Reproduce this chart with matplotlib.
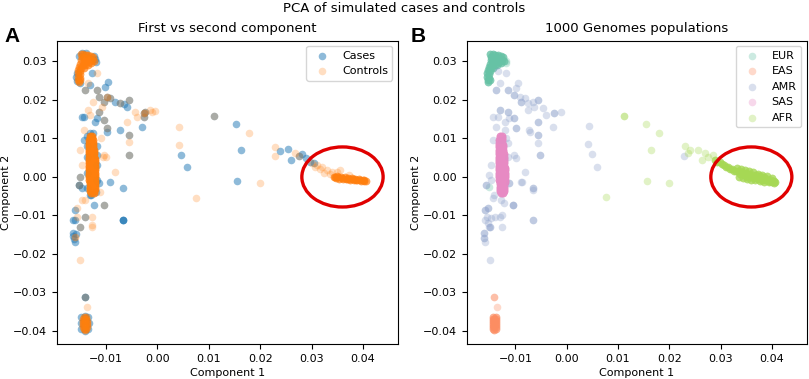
import numpy as np
import matplotlib
matplotlib.use("Agg")
import matplotlib.pyplot as plt
from matplotlib.patches import Ellipse

plt.rcParams["font.family"] = ["DejaVu Sans"]
plt.rcParams["font.size"] = 8

# ---------------- Panel B: 1000 Genomes populations ----------------
# dense clusters: positions + multiplicity (number of overlapping samples)
eur_x = [-0.0149, -0.0144, -0.0139, -0.0134, -0.0129, -0.0125,
         -0.0147, -0.0142, -0.0137, -0.0132, -0.0127, -0.0123,
         -0.0148, -0.0143, -0.0138, -0.0133, -0.0128,
         -0.0150, -0.0145, -0.0140, -0.0135,
         -0.0152, -0.0148, -0.0143,
         -0.0154, -0.0150, -0.0155, -0.0151, -0.0155, -0.0151,
         -0.0154, -0.0150, -0.0153]
eur_y = [0.0318, 0.0318, 0.0317, 0.0316, 0.0314, 0.0311,
         0.0310, 0.0309, 0.0308, 0.0306, 0.0304, 0.0301,
         0.0302, 0.0300, 0.0299, 0.0297, 0.0295,
         0.0293, 0.0291, 0.0290, 0.0289,
         0.0284, 0.0282, 0.0281,
         0.0276, 0.0274, 0.0268, 0.0266, 0.0260, 0.0257,
         0.0252, 0.0250, 0.0246]
eur_count = 4
eur_extra_x = [-0.0118, -0.0119, -0.0152]
eur_extra_y = [0.0299, 0.0295, -0.0026]

sas_x = [-0.0131, -0.0127, -0.0131, -0.0127, -0.0132, -0.0126, -0.0132, -0.0126,
         -0.0132, -0.0125, -0.0132, -0.0125, -0.0133, -0.0124, -0.0133, -0.0124,
         -0.0133, -0.0123, -0.0133, -0.0123, -0.0133, -0.0122, -0.0133, -0.0122,
         -0.0133, -0.0122, -0.0133, -0.0122, -0.0132, -0.0121, -0.0132, -0.0121,
         -0.0132, -0.0121, -0.0132, -0.0121, -0.0132, -0.0121, -0.0132, -0.0121,
         -0.0131, -0.0121, -0.0131, -0.0122, -0.0131, -0.0122, -0.0130, -0.0122,
         -0.0130, -0.0123, -0.0129, -0.0124]
sas_y = [0.0106, 0.0106, 0.0100, 0.0100, 0.0094, 0.0094, 0.0088, 0.0088,
         0.0082, 0.0082, 0.0076, 0.0076, 0.0070, 0.0070, 0.0064, 0.0064,
         0.0058, 0.0058, 0.0052, 0.0052, 0.0046, 0.0046, 0.0040, 0.0040,
         0.0034, 0.0034, 0.0028, 0.0028, 0.0022, 0.0022, 0.0016, 0.0016,
         0.0010, 0.0010, 0.0004, 0.0004, -0.0002, -0.0002, -0.0008, -0.0008,
         -0.0014, -0.0014, -0.0020, -0.0020, -0.0026, -0.0026, -0.0032, -0.0032,
         -0.0038, -0.0038, -0.0043, -0.0043]
sas_count = 6

eas_x = [-0.0143, -0.0138, -0.0144, -0.0138, -0.0144, -0.0137, -0.0144, -0.0137,
         -0.0144, -0.0137, -0.0144, -0.0137, -0.0143, -0.0138, -0.0141, -0.0141,
         -0.0141, -0.0141]
eas_y = [-0.0366, -0.0366, -0.0371, -0.0371, -0.0376, -0.0376, -0.0381, -0.0381,
         -0.0386, -0.0386, -0.0391, -0.0391, -0.0396, -0.0396, -0.0369, -0.0379,
         -0.0389, -0.0398]
eas_count = 3
eas_extra_x = [-0.0141, -0.0141, -0.0136]
eas_extra_y = [-0.0314, -0.0314, -0.0338]

afr_x = [0.0290, 0.0294, 0.0298, 0.0302, 0.0306, 0.0310, 0.0314, 0.0318, 0.0322, 0.0326, 0.0330,
         0.0335, 0.0338, 0.0342, 0.0345, 0.0349, 0.0352, 0.0356, 0.0359, 0.0363, 0.0366, 0.0370,
         0.0373, 0.0377, 0.0380, 0.0384, 0.0387, 0.0391, 0.0394, 0.0398, 0.0401, 0.0404, 0.0406,
         0.0332, 0.0336, 0.0340, 0.0344, 0.0348, 0.0352, 0.0356, 0.0360, 0.0364, 0.0368,
         0.0372, 0.0376, 0.0380, 0.0385, 0.0390, 0.0395, 0.0400, 0.0404]
afr_y = [0.0043, 0.0038, 0.0037, 0.0032, 0.0031, 0.0026, 0.0025, 0.0020, 0.0019, 0.0014, 0.0015,
         0.0015, 0.0006, 0.0012, 0.0003, 0.0009, 0.0000, 0.0007, -0.0002, 0.0005, -0.0004, 0.0003,
         -0.0006, 0.0001, -0.0008, -0.0002, -0.0010, -0.0005, -0.0012, -0.0008, -0.0014, -0.0011, -0.0014,
         0.0022, 0.0000, 0.0019, -0.0003, 0.0017, -0.0006, 0.0014, -0.0008, 0.0011, -0.0010,
         0.0008, -0.0011, 0.0004, -0.0013, 0.0001, -0.0015, -0.0004, -0.0016]
afr_count = 4
afr_extra_x = [0.0112, 0.0112, 0.0154, 0.0180, 0.0164, 0.0156, 0.0200, 0.0076,
               0.0230, 0.0240, 0.0256, 0.0269, 0.0263, 0.0276, 0.0285, 0.0237]
afr_extra_y = [0.0158, 0.0158, 0.0136, 0.0114, 0.0069, -0.0011, -0.0017, -0.0052,
               0.0080, 0.0069, 0.0069, 0.0061, 0.0043, 0.0052, 0.0056, 0.0061]

amr_x = [-0.0134, -0.0118, -0.0131, -0.0138, -0.0138, -0.0115, -0.0115, -0.0095, -0.0099,
         -0.0102, -0.0102, -0.0092, -0.0082, -0.0089, -0.0089, -0.0076, -0.0066, -0.0056,
         -0.0056, -0.0063, -0.0047, -0.0131, -0.0131, -0.0134, -0.0144, -0.0115, -0.0115,
         -0.0112, -0.0121, -0.0102, -0.0102, -0.0099, -0.0099, -0.0076, -0.0056, -0.0056,
         -0.0040, -0.0024, -0.0024, -0.0011, -0.0027, -0.0073, -0.0056, -0.0056, 0.0044,
         0.0042, 0.0049, 0.0060, -0.0065, -0.0088, -0.0053, -0.0053, -0.0071, 0.0229,
         -0.0147, -0.0151, -0.0147, -0.0157, -0.0157, -0.0141, -0.0154, -0.0154, -0.0160,
         -0.0147, -0.0131, -0.0151, -0.0115, -0.0115, -0.0099, -0.0102, -0.0056, -0.0082,
         -0.0089, -0.0066, -0.0105, -0.0128, -0.0112, -0.0112, -0.0066, -0.0066, -0.0118,
         -0.0128, -0.0159, -0.0159, -0.0156, -0.0153, -0.0149, -0.0149, -0.0162, -0.0162,
         -0.0162, -0.0162, -0.0159, -0.0149, -0.0140, -0.0126, -0.0126, -0.0123, -0.0104,
         -0.0104, -0.0143, -0.0065, -0.0137, -0.0120, -0.0143]
amr_y = [0.0273, 0.0269, 0.0243, 0.0225, 0.0225, 0.0225, 0.0225, 0.0243, 0.0230,
         0.0212, 0.0212, 0.0208, 0.0204, 0.0195, 0.0195, 0.0191, 0.0195, 0.0199,
         0.0199, 0.0182, 0.0178, 0.0173, 0.0173, 0.0156, 0.0156, 0.0169, 0.0169,
         0.0152, 0.0143, 0.0152, 0.0152, 0.0126, 0.0126, 0.0173, 0.0143, 0.0143,
         0.0160, 0.0166, 0.0166, 0.0169, 0.0130, 0.0121, 0.0108, 0.0108, 0.0132,
         0.0084, 0.0058, 0.0024, -0.0030, -0.0013, 0.0056, 0.0056, 0.0117, 0.0054,
         0.0030, 0.0004, -0.0009, -0.0022, -0.0022, -0.0048, -0.0082, -0.0082, -0.0112,
         -0.0108, -0.0104, -0.0130, 0.0087, 0.0050, 0.0048, 0.0056, 0.0087, 0.0013,
         -0.0013, -0.0030, -0.0074, -0.0061, -0.0017, -0.0017, -0.0112, -0.0112, 0.0100,
         0.0095, -0.0086, -0.0086, -0.0104, -0.0121, -0.0130, -0.0130, -0.0147, -0.0147,
         -0.0160, -0.0160, -0.0169, -0.0216, -0.0104, -0.0130, -0.0099, -0.0069, -0.0074,
         -0.0074, -0.0056, -0.0035, 0.0128, 0.0120, 0.0095]

# ---------------- Panel A: simulated cases and controls ----------------
case_x = [-0.0127, -0.0140, -0.0095, -0.0101, -0.0117, -0.0114, -0.0098, -0.0092, -0.0104,
          -0.0082, -0.0072, -0.0056, -0.0059, -0.0064, -0.0025, -0.0143, -0.0114, -0.0117,
          -0.0121, -0.0104, -0.0098, -0.0072, -0.0056, -0.0030, -0.0131, -0.0147, -0.0026,
          -0.0023,
          -0.0143, -0.0117, -0.0114, -0.0131, -0.0098, -0.0056, 0.0047, 0.0058, -0.0092,
          -0.0066, -0.0150, -0.0153, -0.0153, -0.0147, -0.0124, -0.0104, -0.0160, -0.0163,
          -0.0140, -0.0150, -0.0066, -0.0066, -0.0066, -0.0160, -0.0163, -0.0164, -0.0162,
          -0.0160, -0.0158, -0.0141, -0.0141,
          0.0110, 0.0153, 0.0163, 0.0155, 0.0238, 0.0254, 0.0260, 0.0276, 0.0281, 0.0297,
          0.0290, 0.0305,
          -0.0121, -0.0120, -0.0124, -0.0146, -0.0138, -0.0153, -0.0157, -0.0158, -0.0156,
          -0.0150,
          -0.0136, -0.0136, -0.0137, -0.0137, -0.0136, -0.0118, -0.0117, -0.0117, -0.0119,
          -0.0128, -0.0130, -0.0125,
          -0.0148, -0.0149, -0.0148, -0.0141, -0.0134, -0.0133, -0.0134, -0.0141]
case_y = [0.0269, 0.0225, 0.0247, 0.0234, 0.0225, 0.0208, 0.0208, 0.0204, 0.0195,
          0.0195, 0.0191, 0.0199, 0.0182, 0.0188, 0.0166, 0.0156, 0.0169, 0.0152,
          0.0143, 0.0147, 0.0126, 0.0121, 0.0108, 0.0130, 0.0238, 0.0156, 0.0156,
          0.0169,
          0.0095, 0.0056, -0.0017, -0.0048, 0.0117, 0.0056, 0.0056, 0.0026, -0.0013,
          -0.0030, 0.0000, -0.0022, -0.0022, -0.0030, -0.0074, -0.0074, -0.0086, -0.0112,
          -0.0104, -0.0130, -0.0112, -0.0112, -0.0112, -0.0112, -0.0147, -0.0155, -0.0163,
          -0.0170, -0.0150, -0.0314, -0.0314,
          0.0158, 0.0136, 0.0069, -0.0011, 0.0066, 0.0071, 0.0043, 0.0054, 0.0059, 0.0039,
          0.0047, 0.0035,
          0.0305, 0.0297, 0.0313, 0.0320, 0.0320, 0.0312, 0.0270, 0.0258, 0.0248,
          0.0244,
          0.0105, 0.0080, 0.0050, 0.0010, -0.0030, 0.0080, 0.0030, -0.0010, -0.0040,
          -0.0047, 0.0112, 0.0112,
          -0.0365, -0.0380, -0.0395, -0.0401, -0.0395, -0.0380, -0.0366, -0.0361]

ctrl_x = [-0.0117, -0.0134, -0.0117, -0.0114, -0.0098, -0.0098, -0.0092, -0.0104, -0.0072,
          -0.0056, -0.0043, -0.0040, -0.0025, -0.0025, -0.0010, -0.0059, 0.0042, -0.0134,
          -0.0131, -0.0114, -0.0104, -0.0098, -0.0056, -0.0140, -0.0026, -0.0023, -0.0015,
          -0.0005, -0.0125, -0.0108,
          -0.0056, 0.0042, -0.0104, -0.0100, -0.0082, -0.0147, -0.0150, -0.0153, -0.0147,
          -0.0156, -0.0156, -0.0140, -0.0127, -0.0150, -0.0127, -0.0127, -0.0161, -0.0161,
          -0.0150, -0.0141, -0.0137, -0.0104, -0.0056, -0.0142, -0.0110, -0.0150, -0.0112,
          -0.0140, -0.0105,
          0.0110, 0.0179, 0.0199, 0.0075, 0.0229, 0.0229, 0.0268, 0.0276,
          0.0301, 0.0311, 0.0320, 0.0330, 0.0325, 0.0335, 0.0349, 0.0356, 0.0372, 0.0340,
          0.0306, 0.0316]
ctrl_y = [0.0269, 0.0243, 0.0225, 0.0208, 0.0208, 0.0208, 0.0204, 0.0195, 0.0191,
          0.0199, 0.0169, 0.0156, 0.0166, 0.0166, 0.0169, 0.0143, 0.0130, 0.0173,
          0.0160, 0.0169, 0.0147, 0.0126, 0.0108, 0.0225, 0.0156, 0.0169, 0.0173,
          0.0170, 0.0195, 0.0180,
          0.0091, 0.0082, 0.0056, 0.0050, 0.0013, 0.0030, 0.0000, -0.0022, -0.0061,
          -0.0082, -0.0104, -0.0104, -0.0104, -0.0130, -0.0125, -0.0132, -0.0157, -0.0157,
          -0.0216, -0.0314, -0.0338, -0.0074, 0.0056, 0.0120, 0.0100, 0.0070, -0.0040,
          -0.0060, 0.0052,
          0.0158, 0.0114, -0.0017, -0.0055, 0.0078, 0.0054, 0.0061, 0.0054,
          0.0035, 0.0030, 0.0026, 0.0017, 0.0010, 0.0008, 0.0013, 0.0017, 0.0004, 0.0012,
          0.0025, 0.0020]

ctrl_afr_x = [0.0343, 0.0345, 0.0347, 0.0350, 0.0352, 0.0354, 0.0357, 0.0359, 0.0361, 0.0364,
              0.0366, 0.0368, 0.0371, 0.0373, 0.0375, 0.0378, 0.0380, 0.0382, 0.0385, 0.0387,
              0.0389, 0.0392, 0.0394, 0.0396, 0.0399, 0.0401, 0.0402, 0.0405]
ctrl_afr_y = [0.0000, -0.0002, -0.0004, 0.0001, -0.0002, -0.0005, -0.0001, -0.0003, -0.0006, -0.0002,
              -0.0005, -0.0007, -0.0003, -0.0006, -0.0008, -0.0004, -0.0007, -0.0009, -0.0005, -0.0008,
              -0.0010, -0.0007, -0.0009, -0.0011, -0.0008, -0.0010, -0.0012, -0.0011]
ctrl_afr_count = 4

pop_names = ["EUR", "EAS", "AMR", "SAS", "AFR"]
pop_colors = ["#66c2a5", "#fc8d62", "#8da0cb", "#e78ac3", "#a6d854"]


def rep(x, y, n):
    return np.repeat(np.asarray(x), n), np.repeat(np.asarray(y), n)


fig = plt.figure(figsize=(8.09, 3.79), dpi=100)
axA = fig.add_axes([0.0705, 0.0923, 0.4215, 0.8003])
axB = fig.add_axes([0.5769, 0.0923, 0.4203, 0.8003])

S = 30
# ----- Panel A -----
ex, ey = rep(eur_x, eur_y, eur_count)
sx, sy = rep(sas_x, sas_y, sas_count)
asx, asy = rep(eas_x, eas_y, eas_count)
fx, fy = rep(ctrl_afr_x, ctrl_afr_y, ctrl_afr_count)
kx_all = np.concatenate([ctrl_x, ex, sx, asx, fx])
ky_all = np.concatenate([ctrl_y, ey, sy, asy, fy])
axA.scatter(case_x, case_y, s=S, color="#1f77b4", alpha=0.5, linewidths=0, label="Cases")
axA.scatter(kx_all, ky_all, s=S, color="#ff7f0e", alpha=0.25, linewidths=0, label="Controls")

# ----- Panel B -----
afx, afy = rep(afr_x, afr_y, afr_count)
bx = {
    "EUR": np.concatenate([ex, eur_extra_x]),
    "EAS": np.concatenate([asx, eas_extra_x]),
    "AMR": np.asarray(amr_x),
    "SAS": sx,
    "AFR": np.concatenate([afx, afr_extra_x]),
}
by = {
    "EUR": np.concatenate([ey, eur_extra_y]),
    "EAS": np.concatenate([asy, eas_extra_y]),
    "AMR": np.asarray(amr_y),
    "SAS": sy,
    "AFR": np.concatenate([afy, afr_extra_y]),
}
for name, col in zip(pop_names, pop_colors):
    axB.scatter(bx[name], by[name], s=S, color=col, alpha=0.33, linewidths=0, label=name)

for ax in (axA, axB):
    ax.set_xlim(-0.0195, 0.0468)
    ax.set_ylim(-0.0435, 0.0353)
    ax.set_xticks([-0.01, 0.0, 0.01, 0.02, 0.03, 0.04])
    ax.set_yticks([-0.04, -0.03, -0.02, -0.01, 0.0, 0.01, 0.02, 0.03])
    ax.set_xlabel("Component 1", fontsize=8, labelpad=3)
    ax.set_ylabel("Component 2", fontsize=8, labelpad=1.5)
    ax.tick_params(labelsize=8)
    ax.add_patch(Ellipse((0.0360, -0.0001), width=0.0158, height=0.0156,
                         fill=False, edgecolor="#e00000", linewidth=2.4, zorder=5))

axA.set_title("First vs second component", fontsize=9.5)
axB.set_title("1000 Genomes populations", fontsize=9.5)
axA.legend(loc="upper right", fontsize=8)
axB.legend(loc="upper right", fontsize=8)

fig.suptitle("PCA of simulated cases and controls", fontsize=9.5, y=0.995)
fig.text(0.005, 0.889, "A", fontsize=15, fontweight="bold", family="Liberation Sans")
fig.text(0.507, 0.889, "B", fontsize=15, fontweight="bold", family="Liberation Sans")

fig.savefig("out.png", dpi=100)
